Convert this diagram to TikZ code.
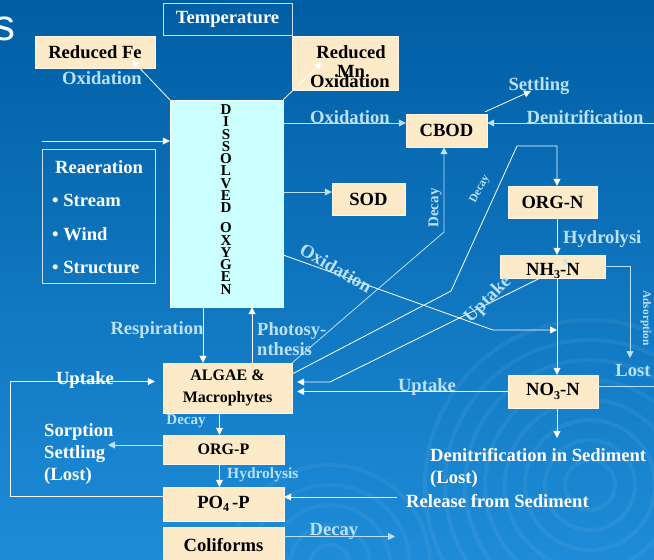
\documentclass[tikz,border=0pt]{standalone}
\usepackage{fontspec}
\setmainfont{Liberation Serif}
\setsansfont{Liberation Sans}
\usetikzlibrary{arrows.meta,positioning,calc}
\definecolor{slideblue}{RGB}{0,94,164}
\definecolor{slidelight}{RGB}{30,140,216}
\definecolor{softtan}{RGB}{253,234,200}
\definecolor{softcyan}{RGB}{204,255,255}
\definecolor{labelblue}{RGB}{186,225,249}
\newcommand{\fsz}[2]{\fontsize{#1}{#2}\selectfont}
\newcommand{\lowsub}[1]{\raisebox{-3.5pt}{\fsz{12}{12}#1}}

\begin{document}
\begin{tikzpicture}[x=1pt,y=-1pt,
    every node/.style={font=\bfseries\fsz{18.6}{21}, inner sep=0pt},
    tanbox/.style={draw=white!60!softtan, fill=softtan, text=black},
    outlinebox/.style={draw=white!80!slideblue, text=white},
    flowlbl/.style={text=labelblue},
    flowtxt/.style={text=white},
    link/.style={draw=white, line width=0.8pt},
    linkl/.style={draw=labelblue, line width=0.8pt},
    arr/.style={-{Triangle[width=7pt,length=7pt]}}]
    \useasboundingbox (0,0) rectangle (654,560);
    \shade[top color=slideblue, bottom color=slidelight] (0,0) rectangle (654,560);
    % faint swirls
    \foreach \r in {25,45,...,165}
      \draw[white, opacity=0.06, line width=4pt] (590,485) circle[radius=\r];
    \foreach \r in {20,40,...,100}
      \draw[white, opacity=0.05, line width=4pt] (330,565) circle[radius=\r];
    \node[text=white!85!labelblue, font=\sffamily\fsz{44}{44}] (ttl) at (5,28.5) {s};

    % boxes
    \node[outlinebox, minimum width=129pt, minimum height=32pt] (temp) at (227.5,19) {Temperature};
    \node[tanbox, minimum width=120pt, minimum height=32pt] (fe) at (95,52) {Reduced Fe};
    \node[tanbox, minimum width=106pt, minimum height=54pt] (mn) at (345,63) {};
    \node[tanbox, fill=softcyan, draw=white, minimum width=113pt, minimum height=207pt] (do) at (226.5,203.5) {};
    \node[outlinebox, minimum width=113pt, minimum height=134pt] (reaer) at (98.5,216) {};
    \node[tanbox, minimum width=81pt, minimum height=33pt] (cbod) at (446.5,130.5) {CBOD};
    \node[tanbox, minimum width=73pt, minimum height=32pt] (sod) at (368.5,199) {SOD};
    \node[tanbox, minimum width=89pt, minimum height=32pt] (orgn) at (552.5,202) {ORG-N};
    \node[tanbox, minimum width=105pt, minimum height=23pt] (nh3) at (552.5,266.5) {};
    \node[tanbox, minimum width=90pt, minimum height=33pt] (no3) at (553,391.5) {NO\lowsub{3}-N};
    \node[tanbox, minimum width=129pt, minimum height=50pt, align=center, font=\bfseries\fsz{16}{22}] (algae) at (227.5,388) {ALGAE \&\\Macrophytes};
    \node[tanbox, minimum width=121pt, minimum height=29pt, font=\bfseries\fsz{16}{19}] (orgp) at (223.5,449.5) {ORG-P};
    \node[tanbox, minimum width=121pt, minimum height=34pt] (po4) at (223.5,504) {PO\lowsub{4}\,-P};
    \node[tanbox, minimum width=121pt, minimum height=36pt] (coli) at (223.5,545) {Coliforms};

    % texts inside boxes
    \node[text=black] (mnred) at (351,52) {Reduced};
    \node[text=black] (mnname) at (351,71) {Mn};
    \node[text=black] (mnox) at (350,81) {Oxidation};
    \node[align=center, font=\bfseries\fsz{15}{12.25}] (dotxt) at (226,199.5)
      {D\\I\\S\\S\\O\\L\\V\\E\\D\\[8pt]O\\X\\Y\\G\\E\\N};
    \node[flowtxt] (reaertitle) at (99,167) {Reaeration};
    \node[flowtxt, anchor=west] (rstream) at (52,200) {\textbullet\ Stream};
    \node[flowtxt, anchor=west] (rwind) at (52,234) {\textbullet\ Wind};
    \node[flowtxt, anchor=west] (rstruct) at (52,267) {\textbullet\ Structure};
    \node[text=black] (nh3txt) at (553,271) {NH\lowsub{3}-N};

    % connectors
    \draw[link,arr] (do.north west) -- ($(fe.south east)+(-23,-8)$);
    \draw[link,arr] (do.north east) -- ($(mn.south west)+(30,-28)$);
    \coordinate (doin) at (42,141);
    \draw[link,arr] (doin) -- (doin -| do.west);
    \coordinate (cbodin) at ($(cbod.west)+(0,-7.5)$);
    \draw[linkl,arr] (do.east |- cbodin) -- (cbodin);
    \coordinate (settle) at (531,91);
    \draw[link,arr] ($(cbod.north east)+(-2,-2)$) -- (settle);
    \coordinate (denin) at (654,123);
    \draw[linkl,arr] (denin) -- (denin -| cbod.east);
    \coordinate (sodin) at ($(sod.west)+(0,-7)$);
    \draw[linkl,arr] (do.east |- sodin) -- (sodin);

    \coordinate (ncol) at (557,0);
    \draw[link,arr] (orgn.south -| ncol) -- (nh3.north -| ncol);
    \draw[link,arr] (nh3.south -| ncol) -- (no3.north -| ncol);
    \coordinate (lostpt) at (630,358);
    \draw[linkl,arr] (nh3.east) -| (lostpt);
    \coordinate (no3out) at (654,386);
    \draw[linkl] (no3out -| no3.east) -- (no3out);
    \coordinate (sedlost) at (557,438);
    \draw[link,arr] (no3.south -| ncol) -- (sedlost);
    \coordinate (oxnit) at (557,330);
    \draw[link,arr] ($(do.east)+(0,51.5)$) -- (493,330) -- (oxnit);

    \coordinate (resp) at (203,0);
    \coordinate (phot) at (252,0);
    \draw[link,arr] (do.south -| resp) -- (algae.north -| resp);
    \draw[link,arr] (algae.north -| phot) -- (do.south -| phot);
    \coordinate (cbodcol) at (444,0);
    \draw[linkl,arr] (algae.north east) -- (444,232) -- (cbod.south -| cbodcol);
    \draw[link,arr] ($(algae.east)+(0,-14)$) -- (451,291) -- (517,146) -- (557,146) -- (orgn.north -| ncol);
    \draw[link,arr] ($(nh3.south west)+(40,0)$) -- (330,382) -- ($(algae.east)+(5,-6)$);
    \draw[link,arr] (no3.west) -- ($(algae.east)+(5,3.5)$);

    \draw[link,arr] ($(algae.south)+(-8,0)$) -- ($(orgp.north)+(-4,0)$);
    \draw[link,arr] ($(orgp.south)+(-4,0)$) -- ($(po4.north)+(-4,0)$);
    \coordinate (sorb) at (108,445);
    \draw[linkl,arr] (orgp.west |- sorb) -- (sorb);
    \draw[link,arr] ($(po4.west)+(0,-8)$) -- (10,496) -- (10,381.5) -- ($(algae.west)+(-8,-6.5)$);
    \coordinate (rel) at (397,497);
    \draw[link,arr] (rel) -- (rel -| po4.east);
    \coordinate (colout) at (395,536.5);
    \draw[linkl,arr] (coli.east |- colout) -- (colout);

    % labels
    \node[flowlbl] (feox) at (102,78) {Oxidation};
    \node[flowlbl] (cbodox) at (350,117) {Oxidation};
    \node[flowlbl] (settlelbl) at (539,86) {Settling};
    \node[flowlbl] (denlbl) at (585,117) {Denitrification};
    \node[flowlbl, rotate=90, font=\bfseries\fsz{15}{18}] (decay1) at (435,208) {Decay};
    \node[flowlbl, rotate=62, font=\bfseries\fsz{11.5}{14}] (decay2) at (480,189) {Decay};
    \node[flowlbl, anchor=north west, align=left, font=\bfseries\fsz{18.6}{22}] (hydlbl) at (563,230.5) {Hydrolysi\\{\fsz{13}{13}s}};
    \node[flowlbl, rotate=-30] (oxlbl) at (336,268) {Oxidation};
    \node[flowlbl, rotate=45] (uplbl1) at (488,300) {Uptake};
    \node[flowlbl] (uplbl2) at (427,387) {Uptake};
    \node[flowlbl, rotate=-90, font=\bfseries\fsz{11.5}{14}] (adslbl) at (646,318) {Adsorption};
    \node[flowlbl] (lostlbl) at (633,370) {Lost};
    \node[flowlbl] (resplbl) at (157,330) {Respiration};
    \node[flowlbl, anchor=west, align=left, font=\bfseries\fsz{18.6}{20}] (photlbl) at (257,339) {Photosy-\\nthesis};
    \node[flowtxt] (uplbl3) at (85,380) {Uptake};
    \node[flowlbl, font=\bfseries\fsz{15}{18}] (decay3) at (186,421) {Decay};
    \node[flowtxt, anchor=west, align=left, font=\bfseries\fsz{18.6}{21.7}] (sorblbl) at (44,454) {Sorption\\Settling\\(Lost)};
    \node[flowlbl, anchor=west, font=\bfseries\fsz{15.5}{18}] (hydplbl) at (227,475) {Hydrolysis};
    \node[flowtxt, anchor=west, align=left, font=\bfseries\fsz{18.6}{21.6}] (sedlbl) at (430,468) {Denitrification in Sediment\\(Lost)};
    \node[flowtxt, anchor=west] (rellbl) at (406,501) {Release from Sediment};
    \node[flowlbl] (decay4) at (334,531) {Decay};
\end{tikzpicture}
\end{document}
